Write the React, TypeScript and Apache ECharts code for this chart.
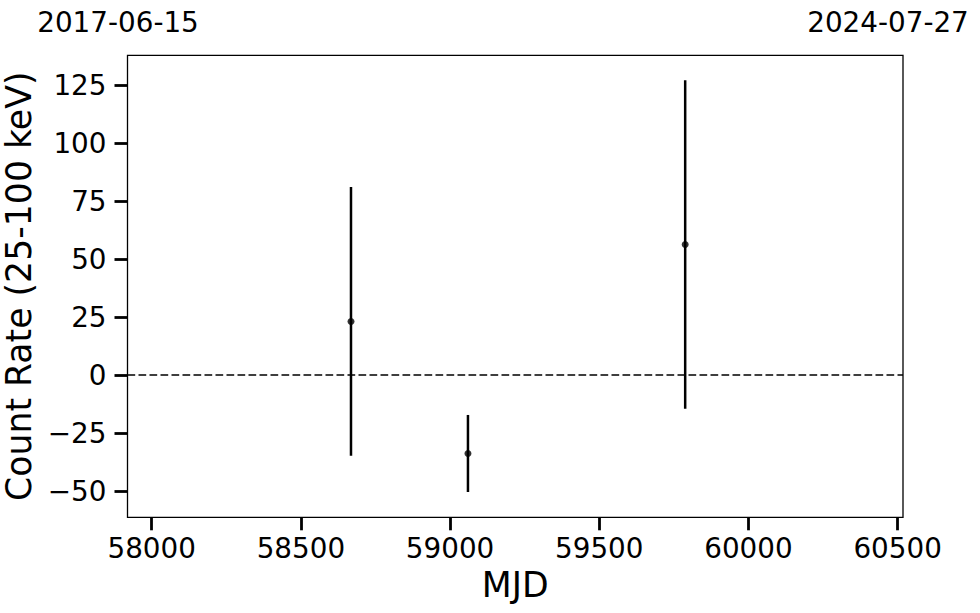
import React, { useEffect, useRef } from "react";
import * as echarts from "echarts";

const mjd = [58668, 59060, 59788];
const rate = [23.1, -33.8, 56.3];
const rateErr = [57.9, 16.6, 70.8];
const xTicks = [58000, 58500, 59000, 59500, 60000, 60500];
const yTicks = [-50, -25, 0, 25, 50, 75, 100, 125];
const topDates = ["2017-06-15", "2024-07-27"];
const xRange = [57919, 60518];
const yRange = [-61.3, 137.8];

const FONT = "DejaVu Sans";

export default function App() {
  const ref = useRef<HTMLDivElement>(null);
  useEffect(() => {
    document.body.style.margin = "0";
    if (!ref.current) return;
    const chart = echarts.init(ref.current, null, { renderer: "svg" });
    const errData = mjd.map((m, i) => [m, rate[i] - rateErr[i], rate[i] + rateErr[i]]);
    const ptData = mjd.map((m, i) => [m, rate[i]]);
    const fmt = (v: number) => (v < 0 ? "\u2212" + Math.abs(v) : String(v));
    const dateText = (text: string, x: number) => ({
      type: "text",
      x,
      y: 22,
      style: {
        text,
        fontFamily: FONT,
        fontSize: 27.8,
        fill: "#000",
        align: "center",
        verticalAlign: "middle",
      },
    });
    chart.setOption({
      animation: false,
      backgroundColor: "#ffffff",
      grid: {
        left: 127.5,
        top: 55.3,
        width: 775.5,
        height: 462,
        show: true,
        borderColor: "#000",
        borderWidth: 1.3,
        backgroundColor: "transparent",
        containLabel: false,
        outerBoundsMode: "none",
      },
      xAxis: {
        type: "value",
        min: xRange[0],
        max: xRange[1],
        name: "MJD",
        nameLocation: "middle",
        nameGap: 40,
        nameTextStyle: { fontFamily: FONT, fontSize: 34.7, color: "#000" },
        axisLine: { show: false, onZero: false },
        splitLine: { show: false },
        axisTick: {
          show: true,
          inside: false,
          length: 13,
          lineStyle: { color: "#000", width: 2.8 },
          customValues: xTicks,
        },
        axisLabel: {
          fontFamily: FONT,
          fontSize: 27.8,
          color: "#000",
          margin: 17,
          customValues: xTicks,
          formatter: (v: number) => String(v),
        },
      },
      yAxis: {
        type: "value",
        min: yRange[0],
        max: yRange[1],
        name: "Count Rate (25-100 keV)",
        nameLocation: "middle",
        nameGap: 78,
        nameTextStyle: { fontFamily: FONT, fontSize: 34.7, color: "#000" },
        axisLine: { show: false, onZero: false },
        splitLine: { show: false },
        axisTick: {
          show: true,
          inside: false,
          length: 13,
          lineStyle: { color: "#000", width: 2.8 },
          customValues: yTicks,
        },
        axisLabel: {
          fontFamily: FONT,
          fontSize: 27.8,
          color: "#000",
          margin: 21,
          customValues: yTicks,
          formatter: fmt,
        },
      },
      graphic: [dateText(topDates[0], 118), dateText(topDates[1], 888)],
      series: [
        {
          type: "custom",
          data: errData,
          renderItem: (params: any, api: any) => {
            const x = api.value(0);
            const lo = api.coord([x, api.value(1)]);
            const hi = api.coord([x, api.value(2)]);
            return {
              type: "line",
              shape: { x1: lo[0], y1: lo[1], x2: hi[0], y2: hi[1] },
              style: { stroke: "#000", lineWidth: 2.5 },
            };
          },
          encode: { x: 0, y: [1, 2] },
          z: 3,
        },
        {
          type: "scatter",
          data: ptData,
          symbol: "circle",
          symbolSize: 7,
          itemStyle: { color: "#000" },
          z: 4,
          markLine: {
            silent: true,
            symbol: "none",
            label: { show: false },
            lineStyle: { color: "#000", type: [7.7, 3.3], width: 1.5 },
            data: [{ yAxis: 0 }],
          },
        },
      ],
    });
    return () => chart.dispose();
  }, []);
  return <div ref={ref} style={{ width: 980, height: 613 }} />;
}
